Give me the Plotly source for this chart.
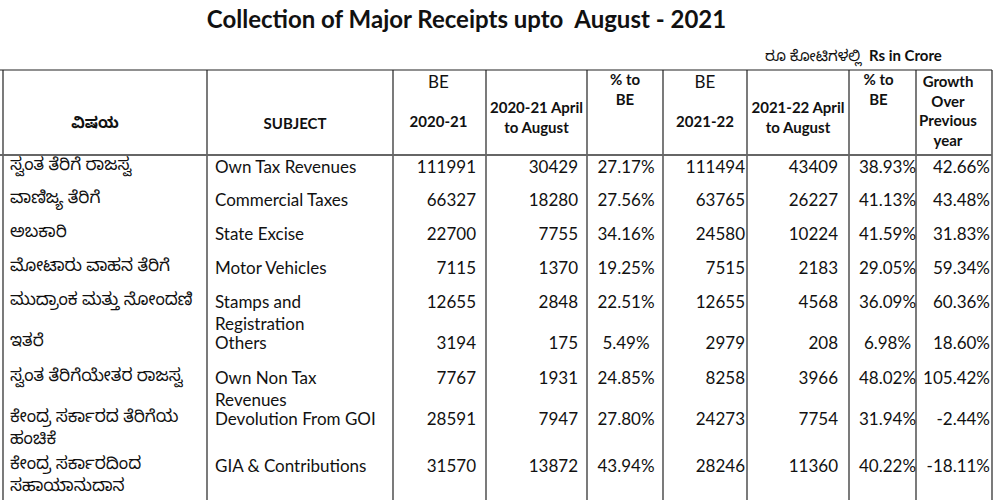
import plotly.graph_objects as go

# ---------------- data ----------------
subject_kn = [
    "ಸ್ವಂತ ತೆರಿಗೆ ರಾಜಸ್ವ",
    "ವಾಣಿಜ್ಯ ತೆರಿಗೆ",
    "ಅಬಕಾರಿ",
    "ಮೋಟಾರು ವಾಹನ ತೆರಿಗೆ",
    "ಮುದ್ರಾಂಕ ಮತ್ತು ನೋಂದಣಿ",
    "ಇತರೆ",
    "ಸ್ವಂತ ತೆರಿಗೆಯೇತರ ರಾಜಸ್ವ",
    "ಕೇಂದ್ರ ಸರ್ಕಾರದ ತೆರಿಗೆಯ<br>ಹಂಚಿಕೆ",
    "ಕೇಂದ್ರ ಸರ್ಕಾರದಿಂದ<br>ಸಹಾಯಾನುದಾನ",
]
subject_en = [
    "Own Tax Revenues",
    "Commercial Taxes",
    "State Excise",
    "Motor Vehicles",
    "Stamps and<br>Registration",
    "Others",
    "Own Non Tax<br>Revenues",
    "Devolution From GOI",
    "GIA &amp; Contributions",
]
be_2020_21 = [111991, 66327, 22700, 7115, 12655, 3194, 7767, 28591, 31570]
apr_aug_2020_21 = [30429, 18280, 7755, 1370, 2848, 175, 1931, 7947, 13872]
pct_be_2020_21 = [27.17, 27.56, 34.16, 19.25, 22.51, 5.49, 24.85, 27.80, 43.94]
be_2021_22 = [111494, 63765, 24580, 7515, 12655, 2979, 8258, 24273, 28246]
apr_aug_2021_22 = [43409, 26227, 10224, 2183, 4568, 208, 3966, 7754, 11360]
pct_be_2021_22 = [38.93, 41.13, 41.59, 29.05, 36.09, 6.98, 48.02, 31.94, 40.22]
growth_pct = [42.66, 43.48, 31.83, 59.34, 60.36, 18.60, 105.42, -2.44, -18.11]

header_labels = [
    "<b>ವಿಷಯ</b>",
    "<b>SUBJECT</b>",
    "<span style='font-size:17px'>BE</span><br> <br><b>2020-21</b>",
    "<b>2020-21 April<br>to August</b>",
    "<b>% to<br>BE</b>",
    "<span style='font-size:17px'>BE</span><br> <br><b>2021-22</b>",
    "<b>2021-22 April<br>to August</b>",
    "<b>% to<br>BE</b>",
    "<b>Growth<br>Over<br>Previous<br>year</b>",
]
title_text = "<b>Collection of Major Receipts upto\u00a0 August - 2021</b>"
unit_text = "ರೂ ಕೋಟಿಗಳಲ್ಲಿ\u00a0 <b>Rs in Crore</b>"

# ---------------- layout / style ----------------
W, H = 994, 500
FONT = "Lato, 'Noto Sans Kannada', 'Noto Sans', sans-serif"
BODY_FS = 17
HEAD_FS = 15
TABLE_LEFT = 3
COL_WIDTHS = [204, 186, 93, 101, 76, 84, 102, 67, 76]
HEADER_TOP, HEADER_BOTTOM = 70, 155
# column alignment and padding / offset inside the cell
COL_ALIGN = ["left", "left", "right", "right", "center", "right", "right", "center", "right"]
COL_PAD = [7, 8, 10, 9, 1, 2, 11, 5, 2]
# header: baseline of first line per column
HEAD_BASE = [128, 129, 88, 113, 85, 88, 113, 85, 87]
HEAD_SHIFT = [-10, -5, -1, 0, 0, 0, 0, -4, -6]
# body: baseline of first line of row 0 and pitch between rows
FIRST_BASE = 172.5
ROW_PITCH = [33.5, 33.5, 34, 34, 41.5, 35, 41, 46.5]
KN_RAISE = 3

edges = [TABLE_LEFT]
for w in COL_WIDTHS:
    edges.append(edges[-1] + w)

row_base = [FIRST_BASE]
for p in ROW_PITCH:
    row_base.append(row_base[-1] + p)

columns = [
    subject_kn,
    subject_en,
    [str(v) for v in be_2020_21],
    [str(v) for v in apr_aug_2020_21],
    [f"{v:.2f}%" for v in pct_be_2020_21],
    [str(v) for v in be_2021_22],
    [str(v) for v in apr_aug_2021_22],
    [f"{v:.2f}%" for v in pct_be_2021_22],
    [f"{v:.2f}%" for v in growth_pct],
]

fig = go.Figure()


def col_x(i, align, pad):
    if align == "left":
        return edges[i] + pad, "bottom right"
    if align == "right":
        return edges[i + 1] - pad, "bottom left"
    return (edges[i] + edges[i + 1]) / 2 + pad, "bottom center"


for i, texts in enumerate(columns):
    x, tp = col_x(i, COL_ALIGN[i], COL_PAD[i])
    raise_ = KN_RAISE if i == 0 else 0
    fig.add_trace(go.Scatter(
        x=[x] * len(texts),
        y=[b - 0.75 * BODY_FS - raise_ for b in row_base],
        mode="text",
        text=texts,
        textposition=tp,
        textfont=dict(family=FONT, size=BODY_FS, color="#111111"),
        hoverinfo="skip",
        showlegend=False,
        cliponaxis=False,
    ))

# header
hx = [(edges[i] + edges[i + 1]) / 2 + HEAD_SHIFT[i] for i in range(len(COL_WIDTHS))]
for i, lab in enumerate(header_labels):
    fig.add_trace(go.Scatter(
        x=[hx[i]],
        y=[HEAD_BASE[i] - 0.75 * HEAD_FS],
        mode="text",
        text=[lab],
        textposition="bottom center",
        textfont=dict(family=FONT, size=HEAD_FS, color="#111111"),
        hoverinfo="skip",
        showlegend=False,
        cliponaxis=False,
    ))

shapes = []
for e in edges:
    shapes.append(dict(type="line", xref="x", yref="y", x0=e, x1=e, y0=HEADER_TOP, y1=H,
                       line=dict(color="#222222", width=1.2)))
shapes.append(dict(type="line", xref="x", yref="y", x0=0, x1=edges[-1], y0=HEADER_TOP, y1=HEADER_TOP,
                   line=dict(color="#222222", width=1.2)))
shapes.append(dict(type="line", xref="x", yref="y", x0=0, x1=edges[-1], y0=HEADER_BOTTOM, y1=HEADER_BOTTOM,
                   line=dict(color="#666666", width=1.8)))

fig.update_layout(
    width=W, height=H,
    margin=dict(l=0, r=0, t=0, b=0),
    paper_bgcolor="white", plot_bgcolor="white",
    xaxis=dict(range=[0, W], visible=False, fixedrange=True),
    yaxis=dict(range=[H, 0], visible=False, fixedrange=True),
    shapes=shapes,
    title=dict(text=title_text, x=466.5 / W, xanchor="center", y=1 - 20 / H, yanchor="middle",
               yref="container", font=dict(family=FONT, size=24, color="#111111")),
    annotations=[dict(text=unit_text, xref="x", yref="y", x=944, y=56, xanchor="right",
                      yanchor="middle", showarrow=False,
                      font=dict(family=FONT, size=15, color="#111111"))],
    hovermode=False,
)

fig.write_html(
    "out.html",
    config={"displayModeBar": False},
    post_script="document.body.style.margin='0';document.body.style.overflow='hidden';",
)
